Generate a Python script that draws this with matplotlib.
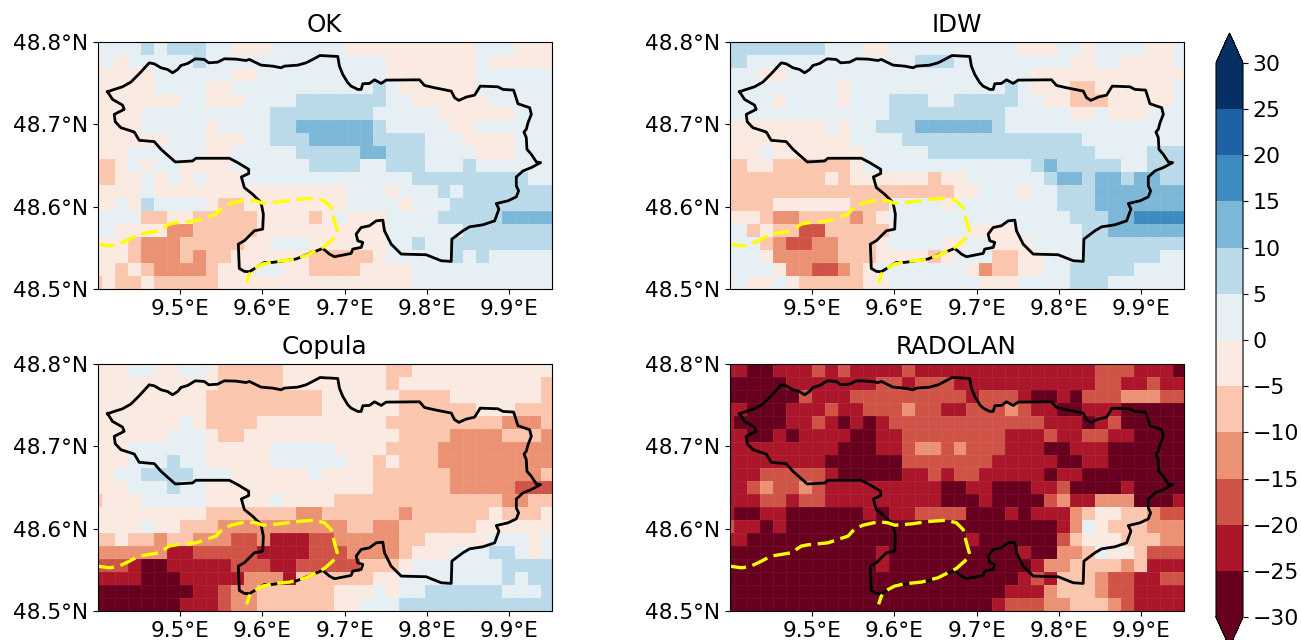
import numpy as np
import matplotlib
matplotlib.use("Agg")
import matplotlib.pyplot as plt
from matplotlib.colors import BoundaryNorm


# class index per grid cell, north to south: 0 is -30..-25, 5 is -5..0, 6 is 0..5
ok_rows = [
    "6666 7 6 777 66 555 666666 5555555555 666 555",
    "5 6 5 66666 7 66666666666666 5555555 6 55555",
    "55555 666666 55 6666666666 5555555 666666",
    "55555 6666 55 66666666666 7 6 555555 666666",
    "5555555 66 555 6666 7777777 66 555555 66666",
    "5555 6666666666 77 777777 66666 555555 666",
    "5555 66666 5 6666 77 888888 7 66666 55 666666",
    "555555 666 555 66 777 88888 7777 666 5555 666",
    "555 666666 55 66666 77777 88 777 6666 555 666",
    "44 5 6 5 66 5555 666666 7777 66 777 666 7 666666",
    "44 55 6 5 6 5 6 555 6666666666666 777777777 66",
    "5555 6 555555555555555 666 5 666 7 6 7777777",
    "55 6 5 7 6666 5 44 55555555 6666 5 666 77777777",
    "6666 44 55 44444 5555 4 5 6 555 6666 77777 8888",
    "66 5555 33 44444 5555555555 666666 7777777",
    "555 4 333 44444 55 666 555555 66 7 66 77777777",
    "555 4 333 4 3 44 555555 44444 5 66666 7 6 7 66666",
    "55 4 5 4 3333 4 555 66 55 4444 5555 66666666666",
    "4 5 44 5 44444 555555555555555 66666666666",
]
idw_rows = [
    "77777777 666 55 6666666666 555 66 5 6666 55 6",
    "77 6666666666666 777 666666666 55 66 5555 6",
    "666 55 6666666666666666666 555555555555",
    "666666666 5 666666666666 7 6 555 44 555555 6",
    "6666 5 6666 5 666 777 66 77777 66 55 444 55555 6",
    "6666666666666 777777777 66666 55 6 555 666",
    "55555555 6 5 66 777 888888 7 66666666666666",
    "5555555555 6666 77777777777777 66666666",
    "555 6 5555555 66666 7777777777777 6666 777",
    "44 55 444444 5 6666666666666 7 8 77777 66 777",
    "44444444 5 4 555555 4 55 666666 7 88 7 88 7 88 77",
    "444444444444444444 55 666 5 66 777 8888888",
    "4444 555555 444 6666 5 66666666 777 8888888",
    "555 4 33 4444 3 4 5 66666666666666 777 88 9999",
    "66 4 5 44 22 44444 666666 5555 66666 77 888888",
    "666 4 3 22 33 444 5 6666 55 66 555 6666 77777777",
    "666 5 33333 444 5555 4 5 666 44 55 666 777777 66",
    "6666 5 33 22 3 4 5 6666666 5 3 44 55 66 77777 6666",
    "5 6 55 6 5 44444 55 6666666 555 6666 777 666666",
]
copula_rows = [
    "555 66 55 66 5 44444 55555555 44 55555555555",
    "5555555555 44444 55555555 4 55555555555 4",
    "555555555 444444444 555555 4444 5555555 4",
    "555555555 444444444 555555 444444 555 444",
    "5555555 6 5 4444 5555555555 444444444 333 4",
    "555555 666 5 44 555555555555 4444 3333 444 3",
    "555 666666 55555 66666 5555 4444 3333333 33",
    "555 666 7 66 55555 666666 55 4 5 444 333333333",
    "55 66 77 77 666 555555 6 5555 444444 333333 3 4",
    "555 666 7 66 5555555555555 444444 33333 222",
    "4 555 66666 55555 6 5555 4444444444444 33 44",
    "555555555 4444444 33 444444 3 444444 5 444 5",
    "5555 6 55 444 333333333 3 44 33 444444 555555",
    "44 5 44 3 44 333 22 3 111 22 333 33 44 55555 666 5 6",
    "333333 11 22222 1111 222 333 3 4 555 666 77 6 5 6",
    "222 1 00 11111 222 11 222 22 444 5 666 6666 7777",
    "1111 000 11111 333 1 4444 44 55 66666666 7 6 77",
    "00000000 11 2 33 444444 555 6 5 66 777777 666 7",
    "0000000 111 2 33 444444 55 666 777777777777",
]
radolan_rows = [
    "11 00 111 2 1 2 1111 2 11111111111111 222 111 0",
    "00000 1111111 22 1 222 11111111111 22 11 2 11",
    "000000 2 111 222222222 1 222 1 00 1 0 222 333 22",
    "11 000 111 2 11 222 3 22 11 222 3 2 11 00 111 00000",
    "1 0000 11 2 1 0 1 0 1 222222222222 111 0 1 2 00000",
    "11 00 1 0 1111 00 11 22222222 111 2 11 22 11 0000",
    "111111111 000 11 2 33 2 3 222 111 00 111 00 0000",
    "11111111 000000 2222222 11111 00 11 00 0000",
    "111 22222 1 00000 11 2 1 22 11111 0 11 0000 0000",
    "11 2 3 22 3 2 111111111 00 11 000 11 2 0000 1 0000",
    "111 22 1 22 111111111 000 1 0000 2 3 11 333 000 1",
    "1 00 11 000000 1 0 11 2222 000 1 0 111 3 4 55 44 322",
    "2 11 0 1 000000000000000000000 1 3 6 5 444 333",
    "11 00000000000000000 1 000000 2 4 555 444 33",
    "000000000000 1 0000000000 1 00 33 4 6 55 4 222",
    "000000000000 1 00000000000 1 33 4 444 3 4 111",
    "00000000000000000000000 1 2 1 444 3 22 11 22",
    "0000000000000000000000 111 3 444 3 22 1111",
    "000000000000000000000 1 222 33 444 3 2 1111",
]
titles = ["OK", "IDW", "Copula", "RADOLAN"]
levels = [-30, -25, -20, -15, -10, -5, 0, 5, 10, 15, 20, 25, 30]

catch_lon = [9.4122, 9.4203, 9.4304, 9.4405, 9.4506, 9.4628, 9.4689, 9.4770, 9.4851, 9.4911,
             9.4972, 9.5013, 9.5094, 9.5187, 9.5296, 9.5349, 9.5458, 9.5539, 9.5681, 9.5802,
             9.5843, 9.5904, 9.5985, 9.6126, 9.6228, 9.6268, 9.6430, 9.6531, 9.6612, 9.6701,
             9.6916, 9.6936, 9.6977, 9.7038, 9.7078, 9.7159, 9.7200, 9.7220, 9.7301, 9.7362,
             9.7443, 9.7503, 9.7908, 9.7969, 9.8091, 9.8293, 9.8334, 9.8386, 9.8475, 9.8577,
             9.8645, 9.8860, 9.8921, 9.9050, 9.9103, 9.9245, 9.9265, 9.9225, 9.9204, 9.9176,
             9.9204, 9.9212, 9.9265, 9.9326, 9.9378, 9.9265, 9.9164, 9.9083, 9.9083, 9.9111,
             9.9083, 9.8982, 9.8840, 9.8872, 9.8820, 9.8678, 9.8516, 9.8435, 9.8301, 9.8293,
             9.8172, 9.7989, 9.7686, 9.7564, 9.7483, 9.7463, 9.7382, 9.7301, 9.7200, 9.7139,
             9.7159, 9.7220, 9.7200, 9.7098, 9.7078, 9.6876, 9.6815, 9.6734, 9.6612, 9.6410,
             9.6126, 9.6025, 9.5964, 9.5843, 9.5782, 9.5721, 9.5709, 9.5782, 9.5904, 9.6005,
             9.6013, 9.5985, 9.5883, 9.5782, 9.5746, 9.5835, 9.5835, 9.5701, 9.5600, 9.5195,
             9.5154, 9.4944, 9.4770, 9.4689, 9.4506, 9.4446, 9.4284, 9.4215, 9.4203, 9.4324,
             9.4304, 9.4182, 9.4122]
catch_lat = [48.7396, 48.7424, 48.7456, 48.7513, 48.7614, 48.7747, 48.7735, 48.7687, 48.7666, 48.7626,
             48.7666, 48.7715, 48.7739, 48.7796, 48.7788, 48.7747, 48.7755, 48.7796, 48.7792, 48.7775,
             48.7788, 48.7759, 48.7719, 48.7707, 48.7687, 48.7707, 48.7719, 48.7747, 48.7788, 48.7836,
             48.7824, 48.7707, 48.7606, 48.7505, 48.7464, 48.7424, 48.7424, 48.7493, 48.7497, 48.7541,
             48.7497, 48.7537, 48.7541, 48.7472, 48.7444, 48.7404, 48.7323, 48.7291, 48.7331, 48.7355,
             48.7464, 48.7456, 48.7424, 48.7416, 48.7250, 48.7202, 48.7121, 48.7020, 48.6939, 48.6907,
             48.6838, 48.6697, 48.6636, 48.6543, 48.6535, 48.6475, 48.6434, 48.6361, 48.6252, 48.6192,
             48.6119, 48.6071, 48.6038, 48.5970, 48.5828, 48.5780, 48.5755, 48.5707, 48.5606, 48.5335,
             48.5343, 48.5416, 48.5424, 48.5545, 48.5707, 48.5836, 48.5828, 48.5768, 48.5747, 48.5667,
             48.5586, 48.5566, 48.5505, 48.5485, 48.5432, 48.5392, 48.5424, 48.5493, 48.5444, 48.5364,
             48.5323, 48.5323, 48.5283, 48.5210, 48.5214, 48.5250, 48.5545, 48.5586, 48.5707, 48.5727,
             48.5909, 48.6050, 48.6151, 48.6232, 48.6361, 48.6402, 48.6454, 48.6535, 48.6588, 48.6588,
             48.6555, 48.6543, 48.6697, 48.6790, 48.6806, 48.6907, 48.6959, 48.7032, 48.7121, 48.7182,
             48.7234, 48.7303, 48.7396]
dash_lon = [9.4000, 9.4142, 9.4243, 9.4365, 9.4506, 9.4628, 9.4749, 9.4871, 9.4952, 9.5195,
            9.5316, 9.5438, 9.5519, 9.5620, 9.5802, 9.5924, 9.6005, 9.6207, 9.6410, 9.6633,
            9.6754, 9.6835, 9.6876, 9.6916, 9.6855, 9.6754, 9.6653, 9.6531, 9.6329, 9.6126,
            9.6005, 9.5904, 9.5843, 9.5810]
dash_lat = [48.5545, 48.5525, 48.5537, 48.5594, 48.5667, 48.5687, 48.5707, 48.5788, 48.5804, 48.5828,
            48.5869, 48.5909, 48.5998, 48.6042, 48.6083, 48.6071, 48.6042, 48.6058, 48.6087, 48.6103,
            48.6071, 48.5990, 48.5828, 48.5687, 48.5606, 48.5517, 48.5465, 48.5404, 48.5351, 48.5331,
            48.5303, 48.5250, 48.5182, 48.5081]

lon_edges = np.linspace(9.3904, 9.9534, 37)
lat_edges = np.linspace(48.8005, 48.5, 20)
W, H = 1301.0, 640.0


def to_values(rows):
    grid = [[int(c) for c in r.replace(" ", "")] for r in rows]
    return (np.array(grid) - 5) * 5.0 - 2.5


def box(x0, y0, x1, y1):
    return [x0 / W, 1 - y1 / H, (x1 - x0) / W, (y1 - y0) / H]


fig = plt.figure(figsize=(13.01, 6.4), dpi=100)
cmap = plt.get_cmap("RdBu", 12)
norm = BoundaryNorm(levels, 12)

boxes = [box(97.5, 42, 551.5, 289), box(729.5, 42, 1183.5, 289),
         box(97.5, 364, 551.5, 611), box(729.5, 364, 1183.5, 611)]
data = [ok_rows, idw_rows, copula_rows, radolan_rows]

for pos, rows, title in zip(boxes, data, titles):
    ax = fig.add_axes(pos)
    # faint seams between the cells, as in the original
    mesh = ax.pcolormesh(lon_edges, lat_edges, to_values(rows), cmap=cmap, norm=norm,
                         edgecolors=(1, 1, 1, 0.05), linewidth=0.5)
    ax.plot(catch_lon, catch_lat, color="black", lw=2.0)
    ax.plot(dash_lon, dash_lat, color="yellow", lw=2.4, ls=(0, (5, 2)))
    ax.set_xlim(9.4, 9.951)
    ax.set_ylim(48.5, 48.8)
    ax.set_xticks([9.5, 9.6, 9.7, 9.8, 9.9])
    ax.set_xticklabels(["9.5°E", "9.6°E", "9.7°E", "9.8°E", "9.9°E"])
    ax.set_yticks([48.5, 48.6, 48.7, 48.8])
    ax.set_yticklabels(["48.5°N", "48.6°N", "48.7°N", "48.8°N"])
    ax.tick_params(labelsize=15.6)
    ax.tick_params(axis="x", pad=3.5)
    ax.set_title(title, fontsize=17.7, pad=7)

# axes also holds the two triangles, the lower tip runs off the figure
cax = fig.add_axes(box(1216, 33, 1243, 647))
cb = fig.colorbar(mesh, cax=cax, extend="both", extendfrac=0.054, ticks=levels, spacing="uniform")
cb.ax.tick_params(labelsize=15.8)

fig.savefig("out.png", dpi=100)
